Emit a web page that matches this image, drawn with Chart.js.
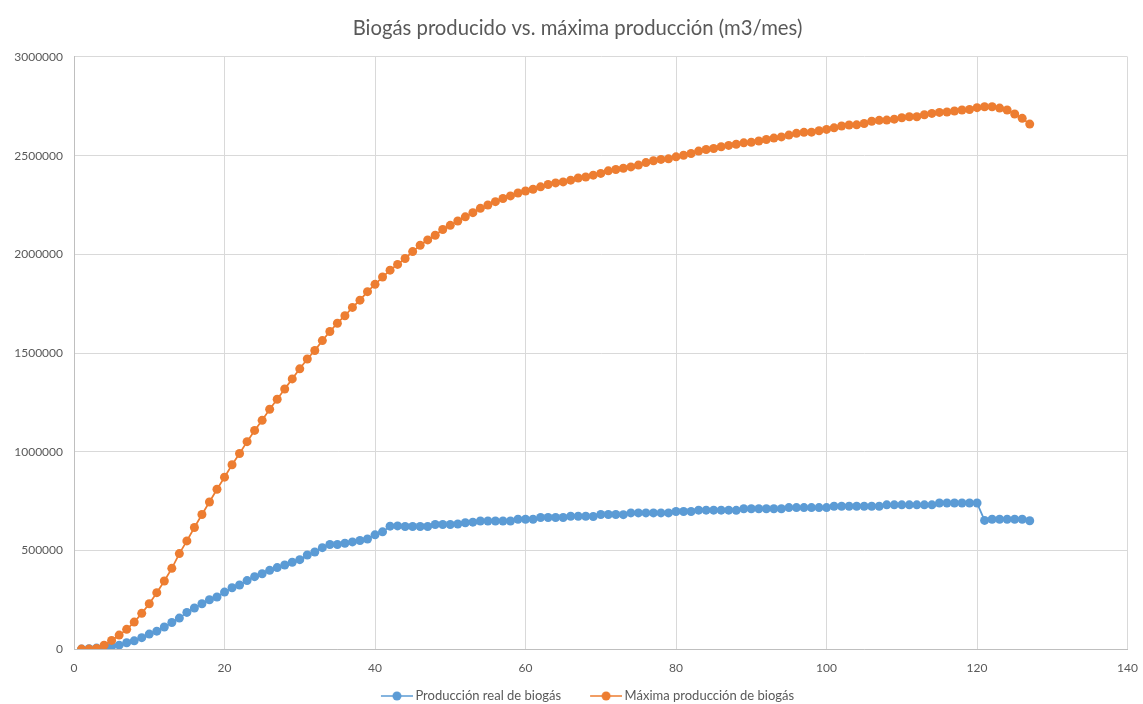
<!DOCTYPE html>
<html>
<head>
<meta charset="utf-8">
<script src="https://cdn.jsdelivr.net/npm/chart.js@4"></script>
<style>
  html, body { margin: 0; padding: 0; background: #fff; }
  #wrap { width: 1143px; height: 704px; }
</style>
</head>
<body>
<div id="wrap"><canvas id="biogasChart"></canvas></div>
<script>
// Months 1..127
const months = [
  1, 2, 3, 4, 5, 6, 7, 8, 9, 10, 11, 12, 13, 14, 15, 16, 17, 18, 19, 20,
  21, 22, 23, 24, 25, 26, 27, 28, 29, 30, 31, 32, 33, 34, 35, 36, 37, 38, 39, 40,
  41, 42, 43, 44, 45, 46, 47, 48, 49, 50, 51, 52, 53, 54, 55, 56, 57, 58, 59, 60,
  61, 62, 63, 64, 65, 66, 67, 68, 69, 70, 71, 72, 73, 74, 75, 76, 77, 78, 79, 80,
  81, 82, 83, 84, 85, 86, 87, 88, 89, 90, 91, 92, 93, 94, 95, 96, 97, 98, 99, 100,
  101, 102, 103, 104, 105, 106, 107, 108, 109, 110, 111, 112, 113, 114, 115, 116, 117, 118, 119, 120,
  121, 122, 123, 124, 125, 126, 127
];

// Producción real de biogás (m3/mes)
const produccionReal = [
  0, 2000, 5000, 10000, 14000, 20000, 32000, 42000, 58000, 76000,
  91000, 112000, 135000, 157000, 186000, 208000, 230000, 250000, 264000, 289000,
  311000, 325000, 347000, 367000, 382000, 399000, 413000, 426000, 440000, 453000,
  477000, 492000, 514000, 530000, 530000, 536000, 543000, 550000, 558000, 579000,
  594000, 623000, 624000, 621000, 621000, 621000, 621000, 631000, 631000, 631000,
  634000, 640000, 643000, 649000, 649000, 649000, 649000, 649000, 658000, 658000,
  658000, 667000, 667000, 667000, 667000, 673000, 673000, 673000, 672000, 682000,
  682000, 682000, 681000, 690000, 690000, 690000, 690000, 690000, 690000, 697000,
  697000, 697000, 704000, 704000, 704000, 704000, 704000, 703000, 711000, 711000,
  711000, 711000, 711000, 711000, 717000, 717000, 717000, 717000, 717000, 717000,
  724000, 724000, 724000, 724000, 724000, 724000, 724000, 731000, 731000, 731000,
  731000, 731000, 731000, 731000, 740000, 740000, 740000, 740000, 740000, 740000,
  652000, 658000, 658000, 658000, 658000, 658000, 650000
];

// Máxima producción de biogás (m3/mes)
const produccionMaxima = [
  0, 0, 3000, 20000, 44000, 71000, 100000, 137000, 181000, 230000,
  286000, 345000, 409000, 484000, 548000, 616000, 682000, 745000, 810000, 871000,
  934000, 991000, 1051000, 1108000, 1159000, 1215000, 1266000, 1318000, 1369000, 1420000,
  1470000, 1513000, 1563000, 1609000, 1651000, 1689000, 1731000, 1768000, 1811000, 1848000,
  1885000, 1920000, 1949000, 1979000, 2014000, 2046000, 2073000, 2097000, 2126000, 2147000,
  2169000, 2190000, 2211000, 2233000, 2250000, 2267000, 2283000, 2296000, 2311000, 2321000,
  2330000, 2342000, 2354000, 2362000, 2367000, 2376000, 2387000, 2392000, 2401000, 2410000,
  2423000, 2430000, 2436000, 2443000, 2452000, 2465000, 2474000, 2481000, 2484000, 2494000,
  2502000, 2511000, 2523000, 2531000, 2536000, 2545000, 2552000, 2558000, 2565000, 2568000,
  2574000, 2582000, 2589000, 2595000, 2604000, 2613000, 2618000, 2619000, 2626000, 2633000,
  2641000, 2650000, 2655000, 2656000, 2663000, 2674000, 2679000, 2680000, 2685000, 2692000,
  2697000, 2697000, 2707000, 2714000, 2719000, 2721000, 2726000, 2731000, 2734000, 2743000,
  2748000, 2748000, 2741000, 2731000, 2711000, 2689000, 2660000
];

const seriesNames = ['Producción real de biogás', 'Máxima producción de biogás'];
const xTicks = [0, 20, 40, 60, 80, 100, 120, 140];
const yTicks = [0, 500000, 1000000, 1500000, 2000000, 2500000, 3000000];

const BLUE = '#5B9BD5';
const ORANGE = '#ED7D31';
const TEXT = '#595959';
const FONT = 'Lato, "Open Sans", sans-serif';

// line-with-dot legend marker; the empty left part gives the gap between items
function legendMarker(color) {
  const c = document.createElement('canvas');
  c.width = 56;
  c.height = 10;
  const g = c.getContext('2d');
  g.strokeStyle = color;
  g.lineWidth = 1.5;
  g.beginPath();
  g.moveTo(24, 5);
  g.lineTo(56, 5);
  g.stroke();
  g.fillStyle = color;
  g.beginPath();
  g.arc(40, 5, 4.5, 0, Math.PI * 2);
  g.fill();
  return c;
}

function toPoints(values) {
  return months.map((m, i) => ({ x: m, y: values[i] }));
}

Chart.defaults.font.family = FONT;
Chart.defaults.color = TEXT;

const lineStyle = {
  showLine: true,
  borderWidth: 1.75,
  pointRadius: 4.5,
  pointBorderWidth: 0,
  pointHoverRadius: 4.5
};

new Chart(document.getElementById('biogasChart'), {
  type: 'scatter',
  data: {
    datasets: [
      Object.assign({
        label: seriesNames[0],
        data: toPoints(produccionReal),
        borderColor: BLUE,
        backgroundColor: BLUE,
        order: 1
      }, lineStyle),
      Object.assign({
        label: seriesNames[1],
        data: toPoints(produccionMaxima),
        borderColor: ORANGE,
        backgroundColor: ORANGE,
        order: 0
      }, lineStyle)
    ]
  },
  options: {
    responsive: true,
    maintainAspectRatio: false,
    animation: false,
    layout: { padding: { left: 12, right: 0, top: 0, bottom: -8.5 } },
    plugins: {
      title: {
        display: true,
        text: 'Biogás producido vs. máxima producción (m3/mes)',
        color: TEXT,
        font: { size: 20.3, weight: 'normal', family: FONT },
        padding: { top: 16, bottom: 16.6 }
      },
      legend: {
        position: 'bottom',
        labels: {
          usePointStyle: true,
          pointStyleWidth: 48,
          color: TEXT,
          font: { size: 13 },
          padding: 9,
          generateLabels: chart => chart.data.datasets.map((ds, i) => ({
            text: ds.label,
            fontColor: TEXT,
            pointStyle: legendMarker(ds.borderColor),
            strokeStyle: ds.borderColor,
            fillStyle: ds.borderColor,
            lineWidth: 0,
            hidden: false,
            datasetIndex: i
          }))
        }
      },
      tooltip: { enabled: false }
    },
    scales: {
      x: {
        type: 'linear',
        min: xTicks[0],
        max: xTicks[xTicks.length - 1],
        afterBuildTicks: axis => { axis.ticks = xTicks.map(v => ({ value: v })); },
        grid: { color: '#d9d9d9', drawTicks: true, tickLength: 7, tickColor: 'rgba(0,0,0,0)' },
        border: { color: '#bfbfbf' },
        ticks: { padding: 5, font: { size: 12 }, color: TEXT, maxRotation: 0 }
      },
      y: {
        type: 'linear',
        min: yTicks[0],
        max: yTicks[yTicks.length - 1],
        afterBuildTicks: axis => { axis.ticks = yTicks.map(v => ({ value: v })); },
        afterFit: axis => { axis.width = 62; },
        grid: { color: '#d9d9d9', drawTicks: false },
        border: { color: '#bfbfbf' },
        ticks: {
          padding: 11,
          font: { size: 12 },
          color: TEXT,
          callback: v => String(v)
        }
      }
    }
  }
});
</script>
</body>
</html>
